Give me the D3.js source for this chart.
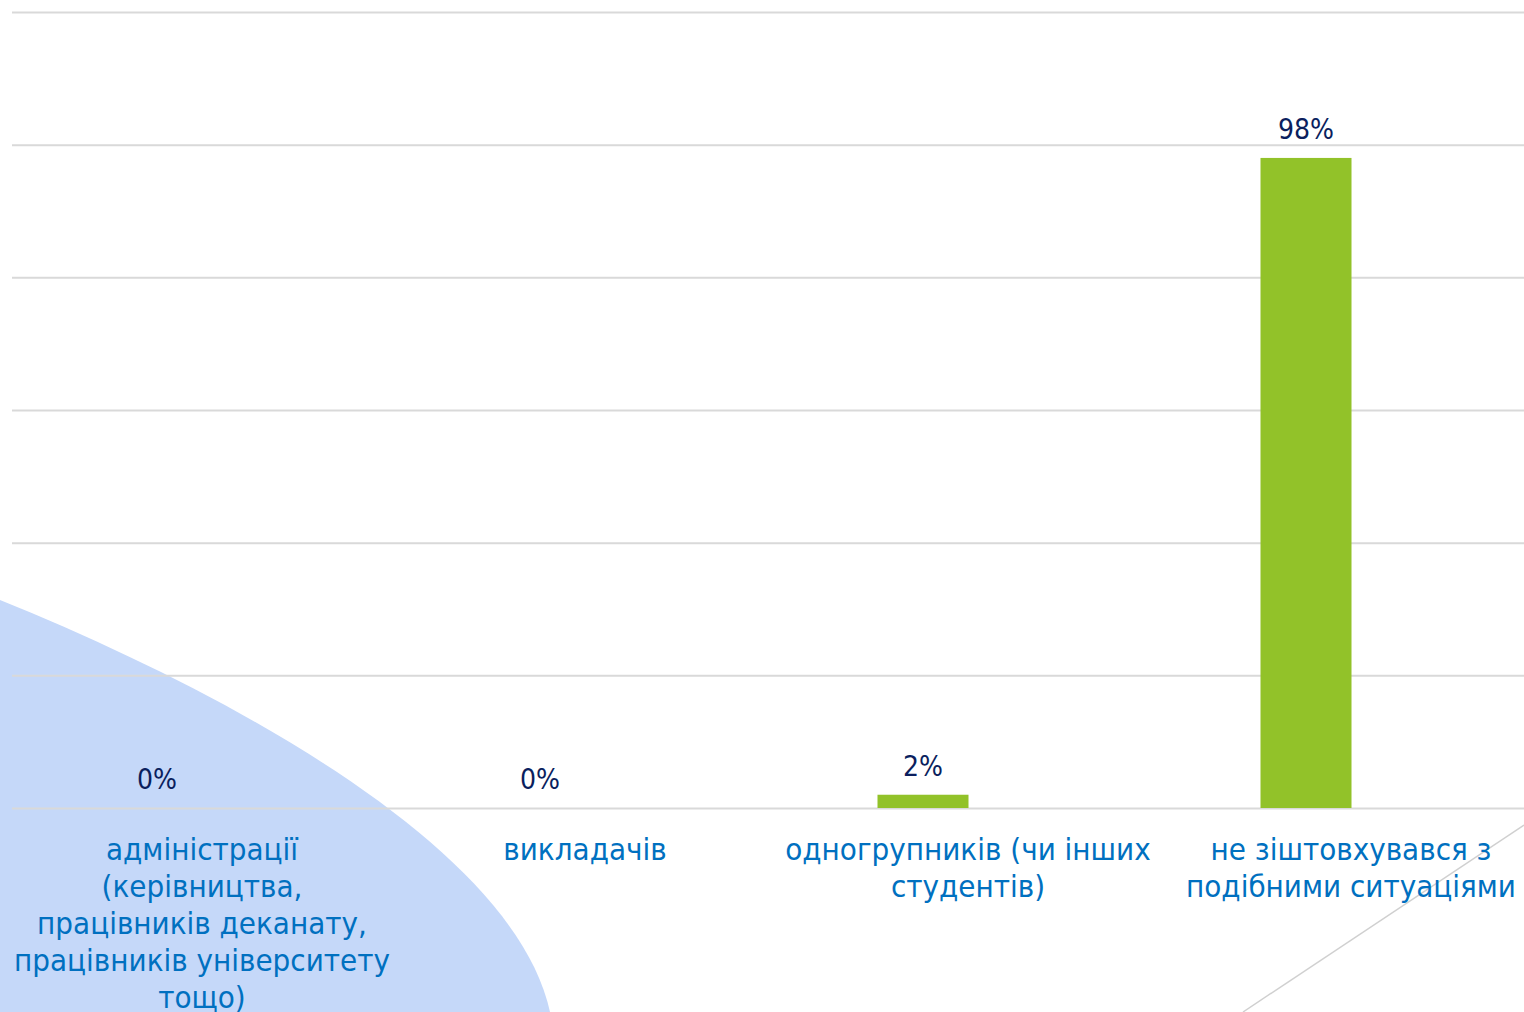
<!DOCTYPE html>
<html>
<head>
<meta charset="utf-8">
<script src="https://cdn.jsdelivr.net/npm/d3@7/dist/d3.min.js"></script>
<style>
  html, body { margin: 0; padding: 0; background: #ffffff; overflow: hidden; }
  svg { display: block; }
</style>
</head>
<body>
<svg id="chart" width="1524" height="1012"></svg>
<script>
// ---- data ----
const categories = [
  "адміністрації\n(керівництва,\nпрацівників деканату,\nпрацівників університету\nтощо)",
  "викладачів",
  "одногрупників (чи інших\nстудентів)",
  "не зіштовхувався з\nподібними ситуаціями"
];
const values = [0, 0, 0.02, 0.98];
const valueLabels = ["0%", "0%", "2%", "98%"];
const yTicks = [0, 0.2, 0.4, 0.6, 0.8, 1.0, 1.2];

// ---- layout ----
const W = 1524, H = 1012;
const svg = d3.select("#chart");

// background decorations
svg.append("path")
  .attr("d", "M0,600 C235,695 515,850 550,1012 L0,1012 Z")
  .attr("fill", "#c5d8f9");
svg.append("line")
  .attr("x1", 1243).attr("y1", 1012).attr("x2", 1524).attr("y2", 825)
  .attr("stroke", "#d0d0d0").attr("stroke-width", 1.5);

const x = d3.scaleBand()
  .domain(d3.range(categories.length))
  .range([-34.5, 1497.5])
  .paddingInner(0.7624)
  .paddingOuter(0.3812);

const y = d3.scaleLinear().domain([0, 1.2]).range([808, 12]);

// gridlines
const grid = svg.append("g")
  .attr("transform", "translate(12,0)")
  .call(d3.axisLeft(y).tickValues(yTicks).tickSize(-(W - 12)).tickFormat(""));
grid.select(".domain").remove();
grid.selectAll(".tick line").attr("stroke", "#d9d9d9").attr("stroke-width", 2);

// bars
svg.append("g").selectAll("rect")
  .data(values)
  .join("rect")
  .attr("x", (d, i) => x(i))
  .attr("width", x.bandwidth())
  .attr("y", d => y(d))
  .attr("height", d => y(0) - y(d))
  .attr("fill", "#92c229");

// value labels
svg.append("g").selectAll("text")
  .data(values)
  .join("text")
  .attr("x", (d, i) => x(i) + x.bandwidth() / 2)
  .attr("y", d => y(d) - 19)
  .attr("text-anchor", "middle")
  .attr("font-family", "'DejaVu Sans Condensed', 'DejaVu Sans', sans-serif")
  .attr("font-size", 28)
  .attr("fill", "#0b1f5e")
  .text((d, i) => valueLabels[i]);

// category labels
const labelOffset = 45;
const lineH = 37;
const lab = svg.append("g").selectAll("text")
  .data(categories)
  .join("text")
  .attr("x", (d, i) => x(i) + x.bandwidth() / 2 + labelOffset)
  .attr("y", 860)
  .attr("text-anchor", "middle")
  .attr("font-family", "'DejaVu Sans Condensed', 'DejaVu Sans', sans-serif")
  .attr("font-size", 31)
  .attr("fill", "#0070c0");
lab.each(function(d, i) {
  const t = d3.select(this);
  d.split("\n").forEach((line, k) => {
    t.append("tspan")
      .attr("x", x(i) + x.bandwidth() / 2 + labelOffset)
      .attr("dy", k === 0 ? 0 : lineH)
      .text(line);
  });
});
</script>
</body>
</html>
